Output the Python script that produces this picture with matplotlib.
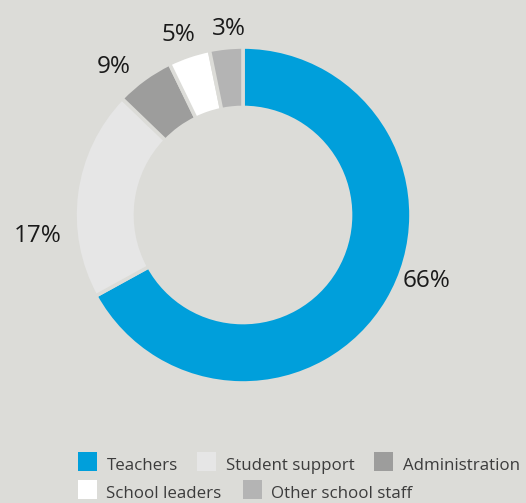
import matplotlib
matplotlib.use("Agg")
import matplotlib.pyplot as plt
from matplotlib.patches import Rectangle

plt.rcParams['font.family'] = ['Open Sans', 'DejaVu Sans']

# data
categories = ["Teachers", "Student support", "Administration", "School leaders", "Other school staff"]
shares = [67.0, 20.2, 5.6, 4.0, 3.2]          # arc sizes as drawn
pct_labels = ["66%", "17%", "9%", "5%", "3%"]  # printed values
colors = ["#009fdb", "#e6e6e6", "#9d9d9c", "#ffffff", "#b4b4b4"]

bg = "#dcdcd8"
W, H = 526, 503
cx, cy, R = 243, 215, 168  # donut centre / radius in pixels

fig = plt.figure(figsize=(W / 100, H / 100), dpi=100, facecolor=bg)
ax = fig.add_axes([0, 0, 1, 1])
ax.set_facecolor(bg)

ax.pie(shares, colors=colors, startangle=90, counterclock=False, radius=1,
       wedgeprops=dict(width=0.36, edgecolor=bg, linewidth=2.6))

ax.set_aspect('auto')
ax.set_xlim(-cx / R, (W - cx) / R)
ax.set_ylim(-(H - cy) / R, cy / R)
ax.axis('off')

# percentage labels (baseline positions in data units)
label_pos = [(1.095, -0.429), (-1.22, -0.161), (-0.768, 0.847), (-0.387, 1.036), (-0.083, 1.071)]
for txt, (x, y) in zip(pct_labels, label_pos):
    ax.text(x, y, txt, ha='center', va='baseline', fontsize=17.5, color="#1a1a1a")

# legend drawn by hand (pixel positions: square left, square top, text left, baseline)
leg_pos = [(78, 452, 106.5, 470), (197, 452, 225.5, 470), (374, 452, 403, 470),
           (78, 480, 106.5, 498), (243, 480, 271, 498)]
sq = 19
for name, col, (sx, sy, tx, by) in zip(categories, colors, leg_pos):
    fig.patches.append(Rectangle((sx / W, 1 - (sy + sq) / H), sq / W, sq / H,
                                 transform=fig.transFigure, facecolor=col, edgecolor='none'))
    fig.text(tx / W, 1 - by / H, name, ha='left', va='baseline', fontsize=12.2,
             color="#3c3c3c")

fig.savefig("out.png", dpi=100, facecolor=bg)
